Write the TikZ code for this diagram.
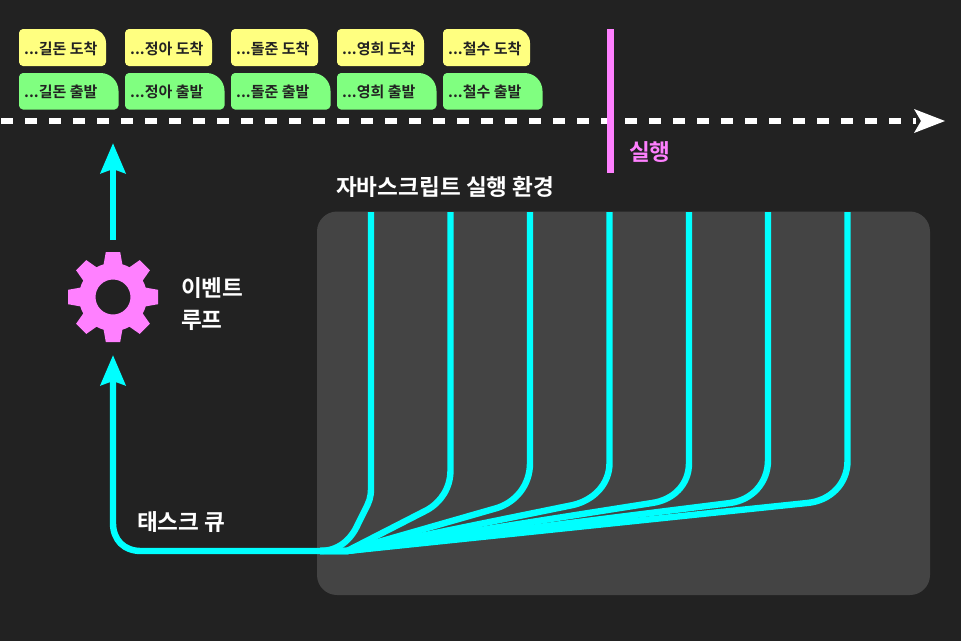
\documentclass[tikz,border=0pt]{standalone}
\usepackage{fontspec}
\setmainfont{Noto Sans CJK KR}[BoldFont={Noto Sans CJK KR Bold}]
\usetikzlibrary{arrows.meta}
\definecolor{bgc}{HTML}{222222}
\definecolor{panelc}{HTML}{444444}
\definecolor{cyanc}{HTML}{00FFFF}
\definecolor{magc}{HTML}{FF80FF}
\definecolor{yelc}{HTML}{FFFF80}
\definecolor{grnc}{HTML}{80FF80}
\tikzset{
  x=1pt,y=-1pt,
  flow/.style={draw=cyanc,line width=6.4pt,line join=round},
  arrowflow/.style={flow,-{Stealth[length=30pt,width=24.5pt,inset=4pt]}},
  lab/.style={text=white,font=\fontsize{22.6}{31.5}\selectfont\bfseries,inner sep=0pt,anchor=west},
  tag/.style={text=bgc,font=\fontsize{15}{18}\selectfont\bfseries,inner sep=0pt,anchor=west},
  yelbox/.style={fill=yelc},
  grnbox/.style={fill=grnc},
}
\newcommand{\tagshape}[6]{%
  \fill[#6] (#1+4,#2) -- (#3-#5,#2) arc[start angle=90,end angle=0,radius=#5pt]
    -- (#3,#4-4) .. controls (#3,#4-2) and (#3-2,#4) .. (#3-4,#4)
    -- (#1+4,#4) .. controls (#1+2,#4) and (#1,#4-2) .. (#1,#4-4)
    -- (#1,#2+4) .. controls (#1,#2+2) and (#1+2,#2) .. (#1+4,#2) -- cycle;}
\begin{document}
\begin{tikzpicture}
\useasboundingbox (0,0) rectangle (961,641);
\fill[bgc] (0,0) rectangle (961,641);
\fill[panelc,rounded corners=20pt] (317,211.5) rectangle (930,595);

% tags
\foreach \i/\n in {0/길돈,1/정아,2/돌준,3/영희,4/철수}{
  \pgfmathsetmacro{\xl}{19+106*\i}
  \pgfmathsetmacro{\xa}{\xl+87}
  \pgfmathsetmacro{\xb}{\xl+99.5}
  \tagshape{\xl}{29}{\xa}{66}{14}{yelbox}
  \tagshape{\xl}{73}{\xb}{109.5}{18}{grnbox}
  \node[tag] (arr\i) at (\xl+5,49) {...\n\ 도착};
  \node[tag] (dep\i) at (\xl+5,92) {...\n\ 출발};
}

% timeline
\coordinate (tlstart) at (1,121);
\coordinate (tlend) at (916,121);
\coordinate (tltip) at (945,121);
\draw[white,line width=6.4pt,dash pattern=on 12pt off 12pt] (tlstart) -- (tlend);
\fill[white] (tltip) -- (914,109) -- (921,121) -- (914,133) -- cycle;

% run marker
\coordinate (runtop) at (610.5,29);
\coordinate (runbot) at (610.5,173);
\draw[magc,line width=6.4pt] (runtop) -- (runbot);
\node[lab,text=magc] (runlab) at (629,152) {실행};

\node[lab] (envlab) at (336,187) {자바스크립트 실행 환경};
\node[lab,align=left] (looplab) at (181,304) {이벤트\\루프};
\node[lab] (qlab) at (137,522) {태스크 큐};

% gear
\coordinate (gear) at (113,297);
\fill[magc,even odd rule] (gear) circle[radius=34pt] (gear) circle[radius=17.5pt];
\foreach \a in {0,45,...,315}{
  \fill[magc,shift={(gear)},rotate=\a] (-9.5,-32) -- (-7.2,-45) -- (7.2,-45) -- (9.5,-32) -- cycle;
}

% loop arrows
\coordinate (upfrom) at (113,240);
\coordinate (uptip) at (113,143);
\draw[arrowflow] (upfrom) -- (uptip);

\coordinate (merge) at (320,551);
\coordinate (looptip) at (113,355);
\draw[arrowflow] (merge) -- (141,551) .. controls (124,551) and (113,540) .. (113,523) -- (looptip);

% branches
\coordinate (b1) at (371,212);
\coordinate (b2) at (450.5,212);
\coordinate (b3) at (530,212);
\coordinate (b4) at (609.5,212);
\coordinate (b5) at (689,212);
\coordinate (b6) at (768,212);
\coordinate (b7) at (847.5,212);
\coordinate (m2) at (347,551);
\draw[flow] (b7) -- (847.5,461) .. controls (847.5,484) and (830,501) .. (807,503) -- (m2) -- (merge);
\draw[flow] (b6) -- (768,460) .. controls (768,483) and (752,500) .. (730,503) -- (m2) -- (merge);
\draw[flow] (b5) -- (689,463) .. controls (689,485) and (673,500) .. (652,503) -- (m2) -- (merge);
\draw[flow] (b4) -- (609.5,463) .. controls (609.5,484) and (594,500) .. (573,505) -- (m2) -- (merge);
\draw[flow] (b3) -- (530,463) .. controls (530,485) and (516,502) .. (497,508) -- (m2) -- (merge);
\draw[flow] (b2) -- (450.5,470) .. controls (450.5,488) and (441,502) .. (427,510) -- (m2) -- (merge);
\draw[flow] (b1) -- (371,488) .. controls (371,498) and (369,502) .. (365,510) -- (358,524) .. controls (351,540) and (338,551) .. (merge);
\end{tikzpicture}
\end{document}
